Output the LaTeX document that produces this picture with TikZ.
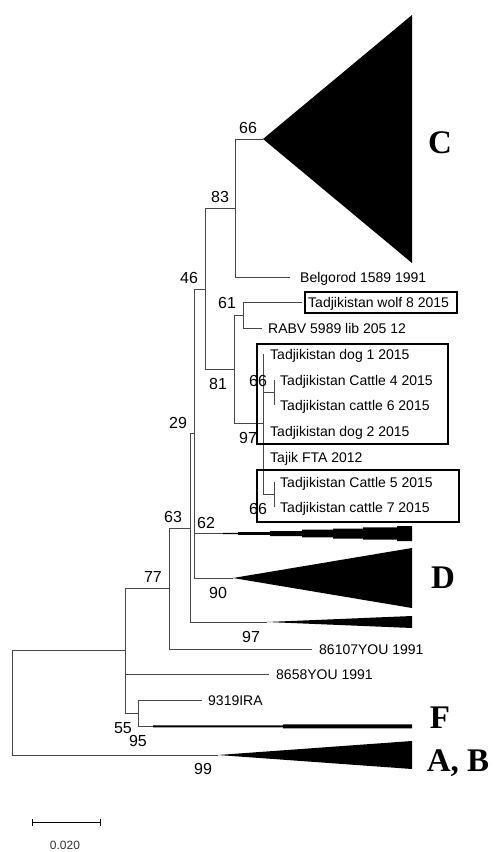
\documentclass[tikz,border=0pt]{standalone}
\usepackage{fontspec}
\setmainfont{Liberation Sans}
\newfontfamily\cladefont{Liberation Serif}
\begin{document}
\begin{tikzpicture}[x=1bp,y=-1bp,
  br/.style={draw=black!72, line width=0.9bp},
  tax/.style={anchor=west, inner sep=0pt, font=\fontsize{14bp}{14bp}\selectfont, text height=10bp, text depth=0pt},
  bs/.style={inner sep=0pt, font=\fontsize{16bp}{16bp}\selectfont, text height=11.5bp, text depth=0pt},
  clade/.style={inner sep=0pt, font=\cladefont\bfseries\fontsize{33bp}{33bp}\selectfont, text height=22bp, text depth=0pt},
  boxed/.style={draw=black, line width=2.4bp},
  wedge/.style={fill=black, draw=none}]
\useasboundingbox (0,0) rectangle (493,852);

% internal nodes
\coordinate (root) at (12,703);
\coordinate (n77) at (125,650);
\coordinate (n63) at (169,588.5);
\coordinate (n55) at (138,713);
\coordinate (nX) at (190,528);
\coordinate (n29) at (194,433);
\coordinate (n46) at (205,289);
\coordinate (n83) at (235,208);
\coordinate (n81) at (234,369);
\coordinate (n61) at (243,315);
\coordinate (n97) at (263,423);
\coordinate (n66a) at (274,392.5);
\coordinate (n66b) at (274,494.5);
% leaf ends / clade apices
\coordinate (cA) at (263,139);
\coordinate (lBel) at (290,277);
\coordinate (lWolf) at (302,302);
\coordinate (lRabv) at (262,328);
\coordinate (lDog1) at (263,354);
\coordinate (lC4) at (274,380);
\coordinate (lC6) at (274,405);
\coordinate (lDog2) at (263,431);
\coordinate (lFTA) at (263,457);
\coordinate (lC5) at (274,482);
\coordinate (lC7) at (274,507);
\coordinate (w62) at (223,533.5);
\coordinate (dA) at (233,578);
\coordinate (w97) at (267,622);
\coordinate (l86107) at (312,649);
\coordinate (l8658) at (269,674);
\coordinate (l9319) at (202,700);
\coordinate (fA) at (153,726.3);
\coordinate (abA) at (218,755);

% branches
\draw[br] (root) |- (n77);
\draw[br] (root) |- (abA);
\draw[br] (n77) |- (n63);
\draw[br] (n77) |- (l8658);
\draw[br] (n77) |- (n55);
\draw[br] (n55) |- (l9319);
\draw[br] (n55) |- (fA);
\draw[br] (n63) |- (nX);
\draw[br] (n63) |- (l86107);
\draw[br] (nX) |- (n29);
\draw[br] (nX) |- (w97);
\draw[br] (n29) |- (n46);
\draw[br] (n29) |- (w62);
\draw[br] (n29) |- (dA);
\draw[br] (n46) |- (n83);
\draw[br] (n46) |- (n81);
\draw[br] (n83) |- (cA);
\draw[br] (n83) |- (lBel);
\draw[br] (n81) |- (n61);
\draw[br] (n81) |- (n97);
\draw[br] (n61) |- (lWolf);
\draw[br] (n61) |- (lRabv);
\draw[br] (n97) |- (lDog1);
\draw[br] (n97) |- (n66a);
\draw[br] (n97) |- (lDog2);
\draw[br] (n97) |- (lFTA);
\draw[br] (n97) |- (n66b);
\draw[br] (n66a) |- (lC4);
\draw[br] (n66a) |- (lC6);
\draw[br] (n66b) |- (lC5);
\draw[br] (n66b) |- (lC7);

% collapsed clades
\fill[wedge] (cA) -- (412,15) -- (412,263) -- cycle;
\fill[wedge] (dA) -- (412,548) -- (412,608) -- cycle;
\fill[wedge] (w97) -- (412,616) -- (412,628) -- cycle;
\fill[wedge] (abA) -- (412,741) -- (412,769) -- cycle;
\fill[wedge] (w62) ++(0,-0.6) -- (238,532.9) -- (238,532.2) -- (270,532.2) -- (270,531) -- (302,531)
  -- (302,529.7) -- (333,529.7) -- (333,528.5) -- (363,528.5) -- (363,527.3) -- (397,527.3)
  -- (397,526) -- (412,526) -- (412,541) -- (397,541) -- (397,539.7) -- (363,539.7)
  -- (363,538.5) -- (333,538.5) -- (333,537.3) -- (302,537.3) -- (302,536) -- (270,536)
  -- (270,534.8) -- (238,534.8) -- (238,534.1) -- (223,534.1) -- cycle;
\fill[wedge] (fA) ++(0,-1) -- (283,725.3) -- (283,724.3) -- (412,724.3) -- (412,728.3)
  -- (283,728.3) -- (283,727.3) -- (153,727.3) -- cycle;

% taxa
\node[tax] (tBel) at (300,277) {Belgorod 1589 1991};
\node[tax] (tWolf) at (308,302) {Tadjikistan wolf 8 2015};
\node[tax] (tRabv) at (268,328) {RABV 5989 lib 205 12};
\node[tax] (tDog1) at (270,354) {Tadjikistan dog 1 2015};
\node[tax] (tC4) at (280,380) {Tadjikistan Cattle 4 2015};
\node[tax] (tC6) at (280,405) {Tadjikistan cattle 6 2015};
\node[tax] (tDog2) at (270,431) {Tadjikistan dog 2 2015};
\node[tax] (tFTA) at (270,457) {Tajik FTA 2012};
\node[tax] (tC5) at (280,482) {Tadjikistan Cattle 5 2015};
\node[tax] (tC7) at (280,507) {Tadjikistan cattle 7 2015};
\node[tax] (t86107) at (319,649) {86107YOU 1991};
\node[tax] (t8658) at (276,674) {8658YOU 1991};
\node[tax] (t9319) at (208,700) {9319IRA};

% highlight boxes
\draw[boxed] (305,292) rectangle (457,313);
\draw[boxed] (257,344) rectangle (448,444);
\draw[boxed] (257,470) rectangle (459,522);

% bootstrap values
\node[bs] (b66c) at (248,128) {66};
\node[bs] (b83) at (220,197) {83};
\node[bs] (b46) at (189,278) {46};
\node[bs] (b61) at (227,303) {61};
\node[bs] (b81) at (218,384) {81};
\node[bs] (b66a) at (258,381) {66};
\node[bs] (b97a) at (248,438) {97};
\node[bs] (b66b) at (258,509) {66};
\node[bs] (b29) at (178,423) {29};
\node[bs] (b63) at (173,517) {63};
\node[bs] (b62) at (206,523) {62};
\node[bs] (b90) at (218,593) {90};
\node[bs] (b97b) at (251,637) {97};
\node[bs] (b77) at (153,577) {77};
\node[bs] (b55) at (123,728) {55};
\node[bs] (b95) at (138,741) {95};
\node[bs] (b99) at (203,769) {99};

% clade letters
\node[clade] (kC) at (440,142) {C};
\node[clade] (kD) at (443,577) {D};
\node[clade] (kF) at (440,717) {F};
\node[clade] (kAB) at (458,760) {A, B};

% scale bar
\coordinate (sbL) at (32,822);
\coordinate (sbR) at (100,822);
\draw[black, line width=0.9bp] (sbL) -- (sbR);
\draw[black, line width=0.9bp] (sbL) ++(0,-3.5) -- ++(0,7);
\draw[black, line width=0.9bp] (sbR) ++(0,-3.5) -- ++(0,7);
\node[inner sep=0pt, font=\fontsize{12bp}{12bp}\selectfont, text=black!80, text height=8.6bp, text depth=0pt] (sbT) at (65,845) {0.020};
\end{tikzpicture}
\end{document}
